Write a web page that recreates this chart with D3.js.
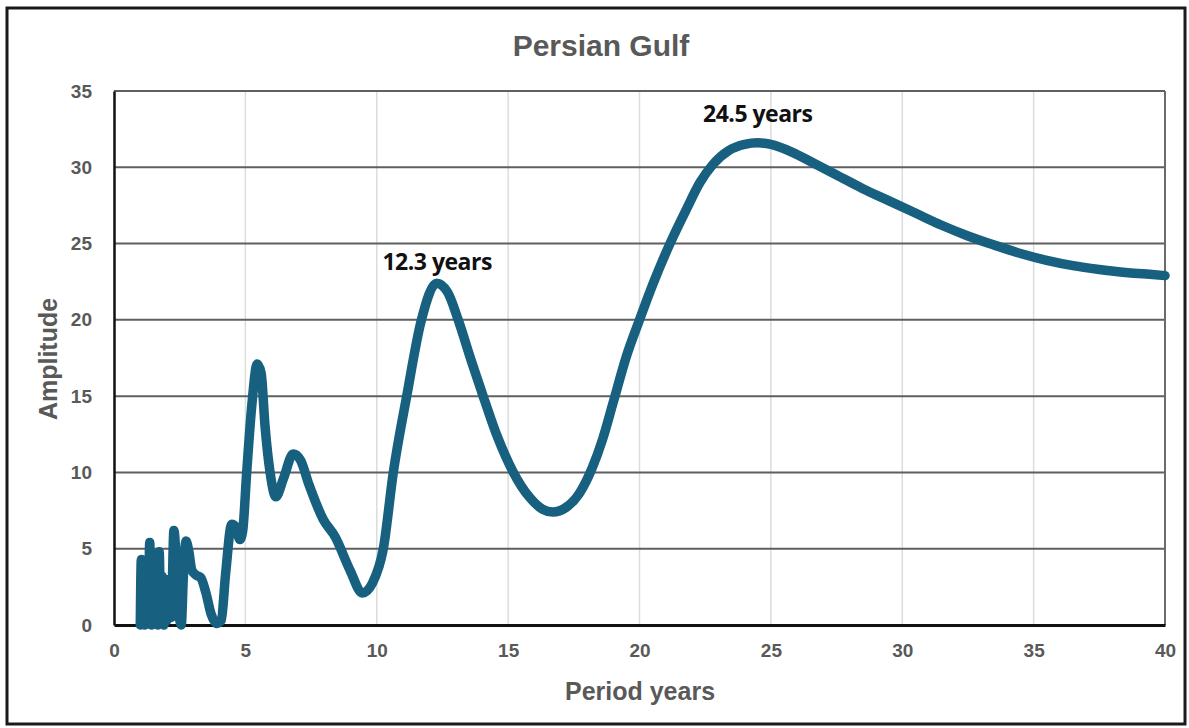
<!DOCTYPE html>
<html>
<head>
<meta charset="utf-8" />
<script src="https://d3js.org/d3.v7.min.js"></script>
<style>
    body { margin: 0; background: #fff; }
    text { font-family: "Liberation Sans", Arial, sans-serif; }
    .tick text { font-size: 19px; font-weight: bold; fill: #595959; }
    .note { font-family: "Open Sans", sans-serif; font-size: 23px; font-weight: 700; fill: #111; letter-spacing: -0.5px; }
</style>
</head>
<body>
<svg width="1189" height="728"></svg>
<script>
// period (years) and amplitude
var periods = [1.0, 1.04, 1.08, 1.13, 1.18, 1.24, 1.3, 1.36, 1.42, 1.48, 1.54, 1.6, 1.66, 1.72, 1.78, 1.84, 1.9, 1.96, 2.02,
    2.1, 2.18, 2.28, 2.36, 2.46, 2.56, 2.64,
    2.74, 2.85, 2.96, 3.1, 3.3, 3.5, 3.7, 3.92, 4.08, 4.25, 4.48, 4.64, 4.79, 4.9, 5.05, 5.25, 5.45, 5.6, 5.75, 5.94, 6.16,
    6.45, 6.82, 7.1, 7.4, 7.97, 8.41, 8.98, 9.45, 9.85, 10.25, 10.63, 11.14, 11.7, 12.28, 12.7, 13.1, 13.6, 14.05,
    14.6, 15.2, 15.8, 16.3, 16.7, 17.2, 17.7, 18.2, 18.6, 19.0, 19.5, 20.0, 20.5, 21.16, 21.8, 22.3, 22.8, 23.4, 24.0,
    24.5, 25.0, 25.8, 26.6, 27.5, 28.5, 29.5, 30.5, 31.5, 32.5, 33.5, 34.5, 35.5, 36.5, 37.5, 38.5, 39.3, 40.0];
var amplitude = [0, 4.3, 0.2, 3.8, 0, 4.2, 0.3, 5.4, 0, 4.6, 0.4, 4.4, 0, 4.8, 0.2, 3.2, 0, 2.4, 0.3,
    3.0, 0.5, 6.2, 4.5, 1.0, 0, 3.2,
    5.5, 4.8, 3.6, 3.3, 3.1, 2.1, 0.7, 0.1, 0.3, 3.4, 6.6, 6.4, 5.6, 6.2, 10.0, 14.5, 17.1, 16.5, 13.0, 10.0, 8.4,
    9.6, 11.2, 10.8, 9.3, 6.9, 5.8, 3.6, 2.1, 2.8, 5.0, 10.0, 15.0, 20.0, 22.4, 21.8, 20.0, 17.3, 15.0,
    12.3, 10.0, 8.4, 7.6, 7.4, 7.7, 8.6, 10.3, 12.2, 14.6, 17.6, 20.0, 22.3, 25.0, 27.3, 29.0, 30.2, 31.1, 31.5,
    31.6, 31.5, 31.0, 30.3, 29.5, 28.6, 27.8, 27.0, 26.2, 25.5, 24.9, 24.35, 23.9, 23.55, 23.3, 23.1, 23.0, 22.9];
var xTicks = [0, 5, 10, 15, 20, 25, 30, 35, 40];
var yTicks = [0, 5, 10, 15, 20, 25, 30, 35];
var notes = [{ label: "12.3 years", x: 12.3, y: 23.3 }, { label: "24.5 years", x: 24.5, y: 33.0 }];

var svg = d3.select("svg");
var plotL = 114, plotR = 1165, plotT = 91, plotB = 625;

var x = d3.scaleLinear().domain([0, 40]).range([plotL, plotR]);
var y = d3.scaleLinear().domain([0, 35]).range([plotB, plotT]);

// outer frame
svg.append("rect")
    .attr("x", 7).attr("y", 8).attr("width", 1178).attr("height", 716)
    .attr("fill", "none").attr("stroke", "#1a1a1a").attr("stroke-width", 3);

// vertical grid
svg.append("g").selectAll("line")
    .data(xTicks.slice(1, -1))
    .enter().append("line")
    .attr("x1", function (d) { return x(d); }).attr("x2", function (d) { return x(d); })
    .attr("y1", plotT).attr("y2", plotB)
    .attr("stroke", "#dcdcdc").attr("stroke-width", 1.5);

// horizontal grid
svg.append("g").selectAll("line")
    .data(yTicks.slice(1))
    .enter().append("line")
    .attr("x1", plotL).attr("x2", plotR)
    .attr("y1", function (d) { return y(d); }).attr("y2", function (d) { return y(d); })
    .attr("stroke", "#5f5f5f").attr("stroke-width", 2);

// right border
svg.append("line")
    .attr("x1", plotR).attr("x2", plotR).attr("y1", plotT).attr("y2", plotB)
    .attr("stroke", "#6a6a6a").attr("stroke-width", 2);

// axes
var xAxis = svg.append("g")
    .attr("transform", "translate(0," + plotB + ")")
    .call(d3.axisBottom(x).tickValues(xTicks).tickSize(0).tickPadding(19));
xAxis.select(".domain").attr("stroke", "#111").attr("stroke-width", 3);

var yAxis = svg.append("g")
    .attr("transform", "translate(" + plotL + ",0)")
    .call(d3.axisLeft(y).tickValues(yTicks).tickSize(0).tickPadding(22));
yAxis.select(".domain").attr("stroke", "#111").attr("stroke-width", 2.5);

// curve
var pts = periods.map(function (p, i) { return [p, amplitude[i]]; });
var line = d3.line()
    .x(function (d) { return x(d[0]); })
    .y(function (d) { return y(d[1]); })
    .curve(d3.curveMonotoneX);

svg.append("path")
    .datum(pts)
    .attr("d", line)
    .attr("fill", "none")
    .attr("stroke", "#17607f")
    .attr("stroke-width", 9.5)
    .attr("stroke-linejoin", "round")
    .attr("stroke-linecap", "round");

// peak notes
svg.append("g").selectAll("text")
    .data(notes)
    .enter().append("text")
    .attr("class", "note")
    .attr("x", function (d) { return x(d.x); })
    .attr("y", function (d) { return y(d.y); })
    .attr("text-anchor", "middle")
    .text(function (d) { return d.label; });

// titles
svg.append("text")
    .attr("x", 601).attr("y", 56)
    .attr("text-anchor", "middle")
    .attr("font-size", 30).attr("font-weight", "bold").attr("fill", "#595959")
    .text("Persian Gulf");

svg.append("text")
    .attr("x", 640).attr("y", 700)
    .attr("text-anchor", "middle")
    .attr("font-size", 25).attr("font-weight", "bold").attr("fill", "#595959")
    .text("Period years");

svg.append("text")
    .attr("transform", "translate(57,359) rotate(-90)")
    .attr("text-anchor", "middle")
    .attr("font-size", 25).attr("font-weight", "bold").attr("fill", "#595959")
    .text("Amplitude");
</script>
</body>
</html>
